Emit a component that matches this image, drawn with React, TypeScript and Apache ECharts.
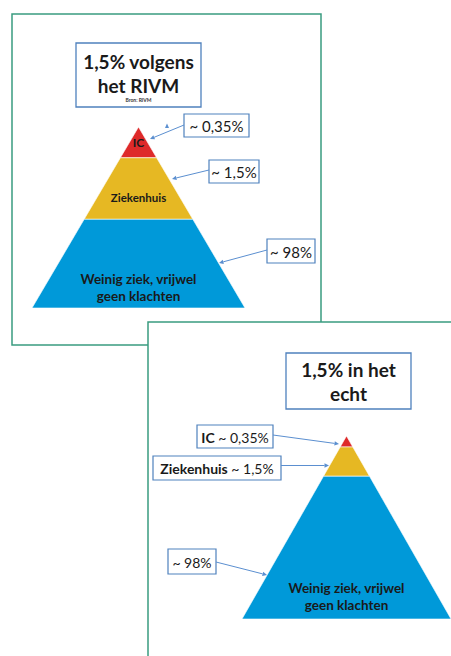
import React, { useEffect, useRef } from "react";
import * as echarts from "echarts";

// ---- data ----
const panelTitles = ["1,5% volgens\nhet RIVM", "1,5% in het\necht"];
const source = "Bron: RIVM";
const layers = ["IC", "Ziekenhuis", "Weinig ziek, vrijwel\ngeen klachten"];
const shares = ["~ 0,35%", "~ 1,5%", "~ 98%"];
// cumulative depth of each layer's lower edge, as a fraction of pyramid height (apex = 0)
const rivmBoundaries = [0.17, 0.51, 1];
const echtBoundaries = [0.06, 0.22, 1];

// ---- styles ----
const FONT = "Lato, 'Open Sans', sans-serif";
const layerColors = ["#de2a2a", "#e6b823", "#0099d9"];
const green = "#3a9c80";
const boxBlue = "#4f81bd";
const arrowBlue = "#5b8fd0";
const ink = "#1a1a1a";

function layerData(bounds: number[]) {
  return bounds.map((b, i) => [i, i === 0 ? 0 : bounds[i - 1], b]);
}

function makeRender(labelAnchors: (number | null)[], fontSizes: number[]) {
  return (params: any, api: any) => {
    const i = api.value(0);
    const y0 = api.value(1);
    const y1 = api.value(2);
    const pts = [
      api.coord([-y0, y0]),
      api.coord([y0, y0]),
      api.coord([y1, y1]),
      api.coord([-y1, y1]),
    ];
    const children: any[] = [
      {
        type: "polygon",
        shape: { points: pts },
        style: { fill: layerColors[i], stroke: "rgba(255,255,255,0.6)", lineWidth: 1 },
      },
    ];
    const k = labelAnchors[i];
    if (k !== null && k !== undefined) {
      const c = api.coord([0, y0 + (y1 - y0) * k]);
      children.push({
        type: "text",
        style: {
          text: layers[i],
          x: c[0],
          y: c[1],
          align: "center",
          verticalAlign: "middle",
          textAlign: "center",
          textVerticalAlign: "middle",
          font: `bold ${fontSizes[i]}px ${FONT}`,
          lineHeight: fontSizes[i] + 3.5,
          fill: ink,
        },
      });
    }
    return { type: "group", children };
  };
}

function arrow(x1: number, y1: number, x2: number, y2: number): any[] {
  const a = Math.atan2(y2 - y1, x2 - x1);
  const s = 4.5;
  const w = 2.2;
  const bx = x2 - s * Math.cos(a);
  const by = y2 - s * Math.sin(a);
  return [
    { type: "line", z: 5, shape: { x1, y1, x2: bx, y2: by }, style: { stroke: arrowBlue, lineWidth: 1 } },
    {
      type: "polygon",
      z: 5,
      shape: {
        points: [
          [x2, y2],
          [bx + w * Math.sin(a), by - w * Math.cos(a)],
          [bx - w * Math.sin(a), by + w * Math.cos(a)],
        ],
      },
      style: { fill: arrowBlue },
    },
  ];
}

function box(x: number, y: number, w: number, h: number, text: string, size: number, rich?: any): any[] {
  return [
    { type: "rect", z: 5, shape: { x, y, width: w, height: h }, style: { fill: "#fff", stroke: boxBlue, lineWidth: 1.2 } },
    {
      type: "text",
      z: 6,
      style: {
        text,
        x: x + w / 2,
        y: y + h / 2 + 0.5,
        align: "center",
        verticalAlign: "middle",
        textAlign: "center",
        textVerticalAlign: "middle",
        font: `${size}px ${FONT}`,
        fill: ink,
        rich,
      },
    },
  ];
}

export default function App() {
  const ref = useRef<HTMLDivElement>(null);
  useEffect(() => {
    if (!ref.current) return;
    const chart = echarts.init(ref.current, undefined, { renderer: "svg" });
    const richStyle = {
      b: { fontWeight: "bold", fontSize: 14, fontFamily: FONT, fill: ink },
      n: { fontSize: 14, fontFamily: FONT, fill: ink },
    };
    const graphic: any[] = [
      // panel frames
      { type: "rect", z: 0, shape: { x: 12, y: 14, width: 309, height: 331 }, style: { fill: "#fff", stroke: green, lineWidth: 1.5 } },
      { type: "rect", z: 1, shape: { x: 148, y: 322, width: 340, height: 400 }, style: { fill: "#fff", stroke: green, lineWidth: 1.5 } },
      // title panel 1
      { type: "rect", z: 5, shape: { x: 76, y: 43, width: 125, height: 64 }, style: { fill: "#fff", stroke: boxBlue, lineWidth: 1.3 } },
      {
        type: "text", z: 6,
        style: {
          text: panelTitles[0], x: 138.5, y: 73, align: "center", verticalAlign: "middle",
          textAlign: "center", textVerticalAlign: "middle",
          font: `bold 19px ${FONT}`, lineHeight: 24, fill: ink,
        },
      },
      {
        type: "text", z: 6,
        style: {
          text: source, x: 138.5, y: 99.5, align: "center", verticalAlign: "middle",
          textAlign: "center", textVerticalAlign: "middle",
          font: `bold 5px ${FONT}`, fill: "#333",
        },
      },
      // title panel 2
      { type: "rect", z: 5, shape: { x: 286, y: 353, width: 125, height: 56 }, style: { fill: "#fff", stroke: boxBlue, lineWidth: 1.3 } },
      {
        type: "text", z: 6,
        style: {
          text: panelTitles[1], x: 348.5, y: 381, align: "center", verticalAlign: "middle",
          textAlign: "center", textVerticalAlign: "middle",
          font: `bold 19px ${FONT}`, lineHeight: 24, fill: ink,
        },
      },
      // callouts panel 1
      ...box(184, 114, 65, 23, shares[0], 15),
      ...arrow(184, 125, 150, 139),
      { type: "polygon", z: 5, shape: { points: [[167, 123.5], [165, 128], [169, 128]] }, style: { fill: arrowBlue } },
      ...box(209, 160, 50, 23, shares[1], 15),
      ...arrow(209, 170, 172, 179),
      ...box(267, 239, 48, 24, shares[2], 15),
      ...arrow(267, 250, 219, 263),
      // callouts panel 2
      ...box(197, 425, 76, 23, `{b|${layers[0]}}{n| ${shares[0]}}`, 14, richStyle),
      ...arrow(273, 435, 339, 444),
      ...box(153, 456, 128, 24, `{b|${layers[1]}}{n| ${shares[1]}}`, 14, richStyle),
      ...arrow(281, 465.5, 329, 465.5),
      ...box(168, 549, 48, 25, shares[2], 14),
      ...arrow(216, 562, 267, 575),
    ];

    chart.setOption({
      animation: false,
      grid: [
        { left: 32, top: 127, width: 213, height: 181 },
        { left: 242, top: 436, width: 212, height: 183 },
      ],
      xAxis: [
        { type: "value", gridIndex: 0, min: -1, max: 1, show: false },
        { type: "value", gridIndex: 1, min: -1, max: 1, show: false },
      ],
      yAxis: [
        { type: "value", gridIndex: 0, min: 0, max: 1, inverse: true, show: false },
        { type: "value", gridIndex: 1, min: 0, max: 1, inverse: true, show: false },
      ],
      graphic,
      series: [
        {
          type: "custom",
          xAxisIndex: 0,
          yAxisIndex: 0,
          z: 3,
          renderItem: makeRender([0.5, 0.64, 0.77], [12, 11.5, 13.5]),
          data: layerData(rivmBoundaries),
          silent: true,
        },
        {
          type: "custom",
          xAxisIndex: 1,
          yAxisIndex: 1,
          z: 3,
          renderItem: makeRender([null, null, 0.84], [12, 11.5, 13.5]),
          data: layerData(echtBoundaries),
          silent: true,
        },
      ],
    });
    return () => chart.dispose();
  }, []);
  return <div ref={ref} style={{ position: "absolute", left: 0, top: 0, width: 451, height: 656 }} />;
}
